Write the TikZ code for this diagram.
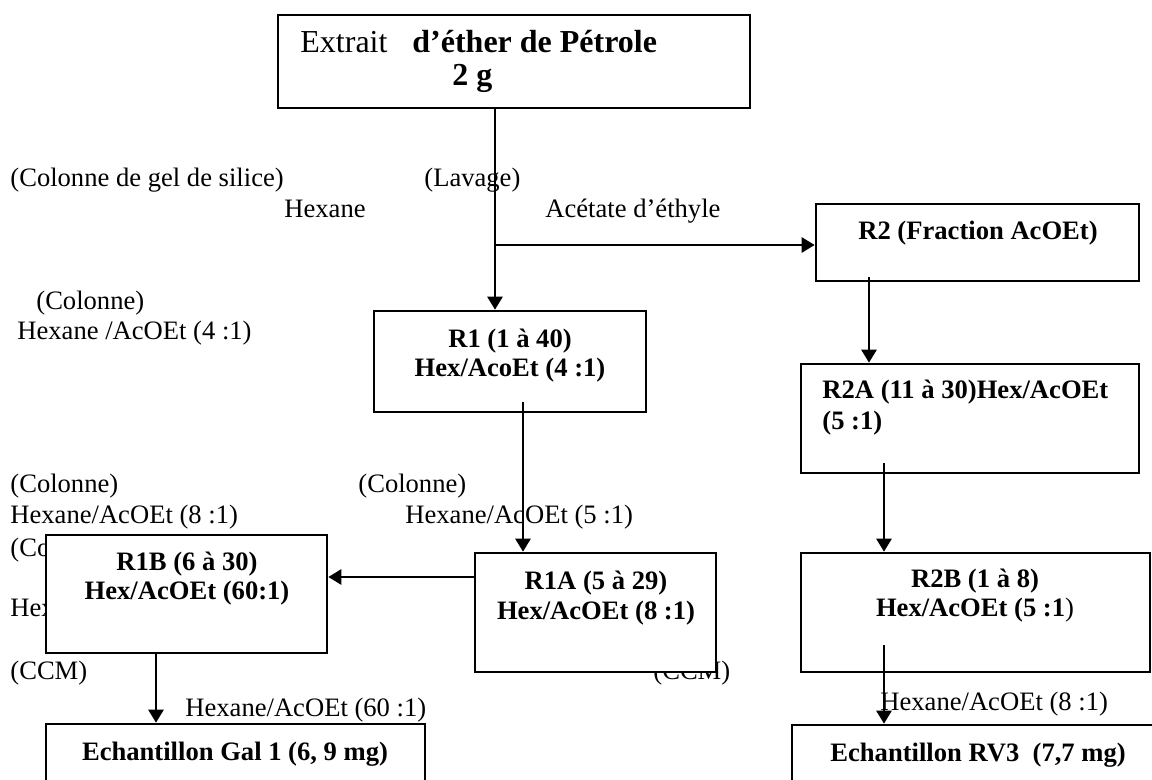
\documentclass[tikz,border=0pt]{standalone}
\usepackage{fontspec}
\setmainfont{Liberation Serif}
\usetikzlibrary{arrows.meta,fit}
\begin{document}
\begin{tikzpicture}[x=0.5pt,y=-0.5pt,
  box/.style={draw, line width=1.3pt, fill=white, inner sep=0pt},
  lbl/.style={inner sep=0pt, anchor=base west, font=\fontsize{13.3}{16}\selectfont},
  blbl/.style={inner sep=0pt, anchor=base west, font=\fontsize{13.3}{16}\selectfont\bfseries},
  ctr/.style={inner sep=0pt, anchor=base, font=\fontsize{13.3}{16}\selectfont\bfseries},
  big/.style={inner sep=0pt, anchor=base west, font=\fontsize{16}{19}\selectfont},
  bigb/.style={inner sep=0pt, anchor=base west, font=\fontsize{16}{19}\selectfont\bfseries},
  arr/.style={line width=1.3pt, -{Triangle[length=6.5pt,width=7.5pt]}}]
\useasboundingbox (0,0) rectangle (1152,780);
\clip (0,0) rectangle (1152,780);

% free labels
\node[lbl] (lcol) at (10,187) {(Colonne de gel de silice)};
\node[lbl] (llav) at (424,187) {(Lavage)};
\node[lbl] (lhex) at (284,218) {Hexane};
\node[lbl] (lace) at (545,218) {Acétate d’éthyle};
\node[lbl] (lc1) at (36,310) {(Colonne)};
\node[lbl] (lh1) at (17,340) {Hexane /AcOEt (4 :1)};
\node[lbl] (lc2) at (10,493) {(Colonne)};
\node[lbl] (lh2) at (10,524) {Hexane/AcOEt (8 :1)};
\node[lbl] (lc3) at (358,493) {(Colonne)};
\node[lbl] (lh3) at (405,524) {Hexane/AcOEt (5 :1)};
\node[lbl] (lc4) at (10,557) {(Co};
\node[lbl] (lh4) at (10,617) {Hex};
\node[lbl] (lccm1) at (10,679) {(CCM)};
\node[lbl] (lccm2) at (653,679) {(CCM)};
\node[lbl] (lh5) at (185,716) {Hexane/AcOEt (60 :1)};
\node[lbl] (lh6) at (880,711) {Hexane/AcOEt (8 :1)};

% boxes
\node[box, fit={(278,15)(750,108)}] (top) {};
\node[box, fit={(816,204)(1139,281)}] (R2) {};
\node[box, fit={(374,311)(646,412)}] (R1) {};
\node[box, fit={(801,364)(1139,473)}] (R2A) {};
\node[box, fit={(475,553)(716,672)}] (R1A) {};
\node[box, fit={(46,535)(327,653)}] (R1B) {};
\node[box, fit={(801,553)(1150,672)}] (R2B) {};
\node[box, fit={(46,724)(425,800)}] (gal) {};
\node[box, fit={(792,725)(1170,800)}] (rv3) {};

% box texts
\node[big] (t0a) at (300,53) {Extrait};
\node[bigb] (t0b) at (412,53) {d’éther de Pétrole};
\node[bigb] (t0c) at (452,86) {2 g};
\node[ctr] (t2) at (978,240) {R2 (Fraction AcOEt)};
\node[ctr] (t1a) at (510,348) {R1 (1 à 40)};
\node[ctr] (t1b) at (510,377) {Hex/AcoEt (4 :1)};
\node[blbl] (t2aa) at (822,399) {R2A (11 à 30)Hex/AcOEt};
\node[blbl] (t2ab) at (822,430) {(5 :1)};
\node[ctr] (t1Aa) at (596,589) {R1A (5 à 29)};
\node[ctr] (t1Ab) at (596,619) {Hex/AcOEt (8 :1)};
\node[ctr] (t1Ba) at (187,571) {R1B (6 à 30)};
\node[ctr] (t1Bb) at (187,600) {Hex/AcOEt (60:1)};
\node[ctr] (t2Ba) at (975,588) {R2B (1 à 8)};
\node[ctr] (t2Bb) at (975,617) {Hex/AcOEt (5 :1\textmd{)}};
\node[ctr] (tgal) at (235,760) {Echantillon Gal 1 (6, 9 mg)};
\node[blbl] (trv3) at (830,761) {Echantillon RV3\ \ (7,7 mg)};

% connectors
\coordinate (j) at (495,245);
\coordinate (jt) at (700,245);
\draw[line width=1.3pt] (top.south -| j) -- (j);
\draw[arr] (j) -- (j |- R1.north);
\draw[line width=0.85pt] (j) -- (jt);
\draw[arr] (jt) -- (jt -| R2.west);
\coordinate (a1) at (523,402);
\draw[arr] (a1) -- (a1 |- R1A.north);
\coordinate (a2) at (475,577);
\draw[arr] (a2) -- (a2 -| R1B.east);
\coordinate (a3) at (156,653);
\draw[arr] (a3) -- (a3 |- gal.north);
\coordinate (a4) at (869,277);
\draw[arr] (a4) -- (a4 |- R2A.north);
\coordinate (a5) at (884,463);
\draw[arr] (a5) -- (a5 |- R2B.north);
\coordinate (a6) at (884,645);
\draw[arr] (a6) -- (a6 |- rv3.north);
\end{tikzpicture}
\end{document}
